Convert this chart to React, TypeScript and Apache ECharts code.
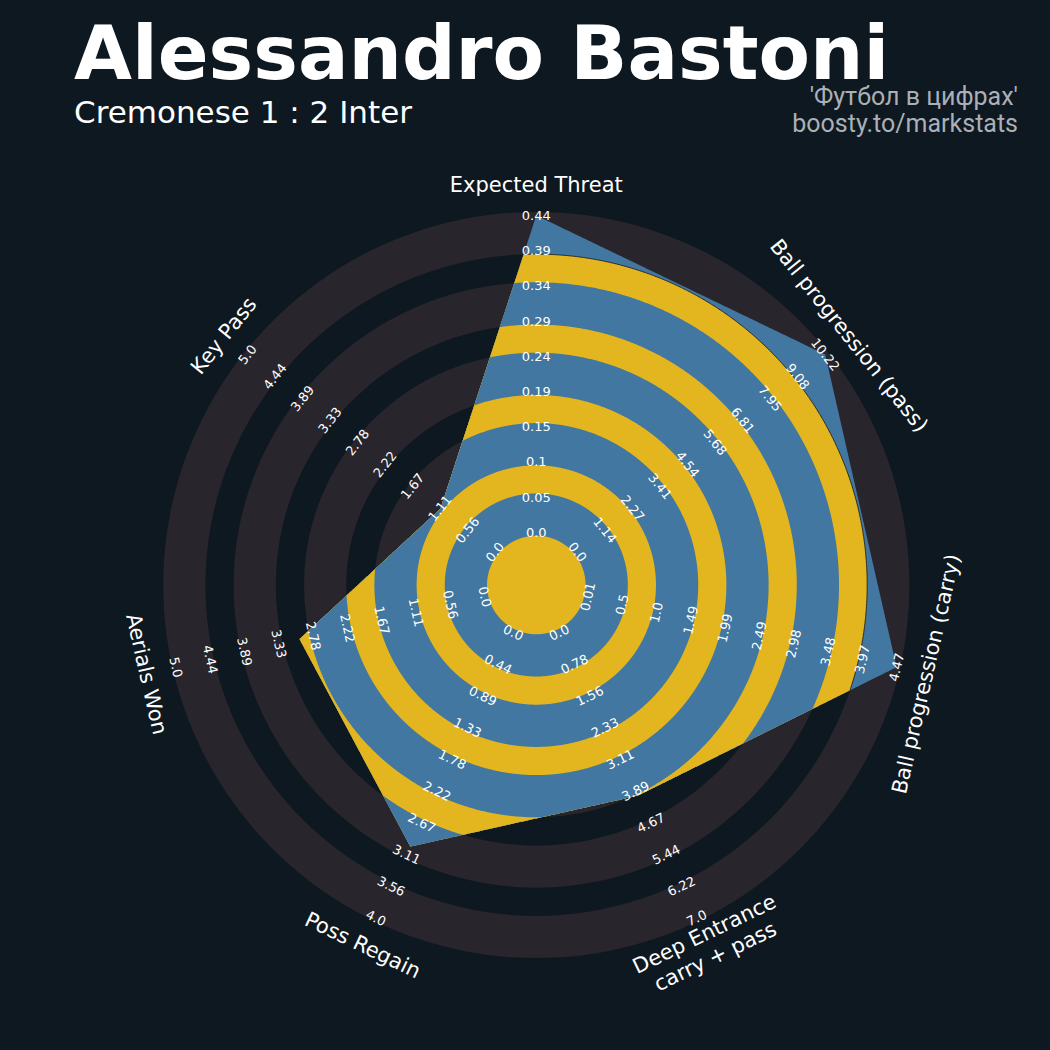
import React, { useEffect, useRef } from "react";
import * as echarts from "echarts";

// ---------------- data ----------------
const params = [
  "Expected Threat",
  "Ball progression (pass)",
  "Ball progression (carry)",
  "Deep Entrance\ncarry + pass",
  "Poss Regain",
  "Aerials Won",
  "Key Pass",
];
const lows = [0, 0, 0.01, 0, 0, 0, 0];
const highs = [0.44, 10.22, 4.47, 7.0, 4.0, 5.0, 5.0];
const values = [0.44, 10.22, 4.47, 4.0, 3.0, 3.0, 1.1];
const tickLabels = [
  ["0.0", "0.05", "0.1", "0.15", "0.19", "0.24", "0.29", "0.34", "0.39", "0.44"],
  ["0.0", "1.14", "2.27", "3.41", "4.54", "5.68", "6.81", "7.95", "9.08", "10.22"],
  ["0.01", "0.5", "1.0", "1.49", "1.99", "2.49", "2.98", "3.48", "3.97", "4.47"],
  ["0.0", "0.78", "1.56", "2.33", "3.11", "3.89", "4.67", "5.44", "6.22", "7.0"],
  ["0.0", "0.44", "0.89", "1.33", "1.78", "2.22", "2.67", "3.11", "3.56", "4.0"],
  ["0.0", "0.56", "1.11", "1.67", "2.22", "2.78", "3.33", "3.89", "4.44", "5.0"],
  ["0.0", "0.56", "1.11", "1.67", "2.22", "2.78", "3.33", "3.89", "4.44", "5.0"],
];
const TITLE = "Alessandro Bastoni";
const SUBTITLE = "Cremonese 1 : 2 Inter";
const CREDIT1 = "'Футбол в цифрах'";
const CREDIT2 = "boosty.to/markstats";

// ---------------- style / layout ----------------
const BG = "#0e1820";
const RING_GRAY = "#28252c";
const BLUE = "#4177a0";
const YELLOW = "#e3b51e";
const FONT = "DejaVu Sans";
const CENTER = [536.3, 585];
const CENTER_R = 1.5; // radius (axis units) where each range starts
const RANGE_SPAN = 9; // radius units from min to max
const PAD = 0.1; // ring edge thickening
const AXIS_MAX = 10.6;
const OUTER_PX = 373.1;
const LABEL_R = 11.36;
const EDGE_R = CENTER_R + 8 - PAD; // inner edge of outermost ring (thin dark line)

const N = params.length;
const STEP = 360 / N;
const angleOf = (i: number) => i * STEP;
const toRadius = (i: number) => {
  const f = Math.max(0, Math.min(1, (values[i] - lows[i]) / (highs[i] - lows[i])));
  return CENTER_R + RANGE_SPAN * f;
};

const ringBands: number[][] = [0, 1, 2, 3, 4].map((m) => [
  CENTER_R + 2 * m - PAD,
  CENTER_R + 2 * m + 1 + PAD,
]);
const fillLayers: number[][] = [];
for (let m = 4; m >= 0; m--) {
  fillLayers.push([CENTER_R + 2 * m + 1 + PAD, 0]);
  fillLayers.push([CENTER_R + 2 * m - PAD, 1]);
}

const samples: number[] = [];
for (let k = 0; k < 1440; k++) samples.push(k * 0.25);
for (let i = 0; i < N; i++) samples.push(angleOf(i));
samples.sort((a, b) => a - b);

function polyRadius(phi: number, radii: number[]) {
  let i = Math.floor(phi / STEP);
  if (i >= N) i = N - 1;
  const j = (i + 1) % N;
  const ti = i * STEP;
  const rad = Math.PI / 180;
  const a = (phi - ti) * rad;
  const b = (STEP - (phi - ti)) * rad;
  const D = STEP * rad;
  const ri = radii[i];
  const rj = radii[j];
  return (ri * rj * Math.sin(D)) / (ri * Math.sin(a) + rj * Math.sin(b));
}

function tangentRot(deg: number) {
  const r = deg > 90 + 1e-6 && deg < 270 - 1e-6 ? 180 - deg : -deg;
  return (r * Math.PI) / 180;
}

const rangeData: number[][] = [];
for (let i = 0; i < N; i++) {
  for (let k = 0; k < tickLabels[i].length; k++) {
    rangeData.push([CENTER_R + k, angleOf(i), i, k]);
  }
}
const paramData: number[][] = params.map((_, i) => [LABEL_R, angleOf(i), i]);

function buildOption(): any {
  return {
    animation: false,
    backgroundColor: BG,
    polar: { center: CENTER, radius: OUTER_PX },
    angleAxis: { type: "value", min: 0, max: 360, startAngle: 90, clockwise: true, show: false },
    radiusAxis: { type: "value", min: 0, max: AXIS_MAX, show: false },
    tooltip: { show: false },
    graphic: [
      {
        type: "text",
        x: 74,
        y: 53,
        silent: true,
        style: {
          text: TITLE,
          fill: "#ffffff",
          fontSize: 75,
          fontWeight: "bold",
          fontFamily: FONT,
          textAlign: "left",
          textVerticalAlign: "middle",
          lineHeight: 58,
        },
      },
      {
        type: "text",
        x: 74,
        y: 112,
        silent: true,
        style: {
          text: SUBTITLE,
          fill: "#ffffff",
          fontSize: 31,
          fontFamily: FONT,
          textAlign: "left",
          textVerticalAlign: "middle",
          lineHeight: 30,
        },
      },
      {
        type: "text",
        x: 1018,
        y: 96,
        silent: true,
        style: {
          text: CREDIT1,
          fill: "#aab0b6",
          fontSize: 25,
          fontFamily: "Roboto",
          textAlign: "right",
          textVerticalAlign: "middle",
          lineHeight: 26,
        },
      },
      {
        type: "text",
        x: 1018,
        y: 123,
        silent: true,
        style: {
          text: CREDIT2,
          fill: "#aab0b6",
          fontSize: 25,
          fontFamily: "Roboto",
          textAlign: "right",
          textVerticalAlign: "middle",
          lineHeight: 26,
        },
      },
    ],
    series: [
      {
        type: "custom",
        name: "rings",
        coordinateSystem: "polar",
        silent: true,
        z: 1,
        data: ringBands,
        renderItem: (p: any, api: any) => {
          const c = api.coord([0, 0]);
          const o = api.coord([api.value(1), 0]);
          const inn = api.coord([api.value(0), 0]);
          return {
            type: "ring",
            shape: {
              cx: c[0],
              cy: c[1],
              r: Math.hypot(o[0] - c[0], o[1] - c[1]),
              r0: Math.hypot(inn[0] - c[0], inn[1] - c[1]),
            },
            style: { fill: RING_GRAY },
          };
        },
      },
      {
        type: "custom",
        name: "radar",
        coordinateSystem: "polar",
        silent: true,
        z: 2,
        data: fillLayers,
        renderItem: (p: any, api: any) => {
          const R = api.value(0);
          const ci = api.value(1);
          const radii = params.map((_, i) => toRadius(i));
          const pts = samples.map((phi) => api.coord([Math.min(R, polyRadius(phi, radii)), phi]));
          return {
            type: "polygon",
            z2: p.dataIndex,
            shape: { points: pts },
            style: { fill: ci === 0 ? BLUE : YELLOW },
          };
        },
      },
      {
        type: "custom",
        name: "edge",
        coordinateSystem: "polar",
        silent: true,
        z: 2,
        data: [[EDGE_R, 0]],
        renderItem: (p: any, api: any) => {
          const R = api.value(0);
          const radii = params.map((_, i) => toRadius(i));
          const runs: number[][][] = [];
          let cur: number[][] = [];
          samples.forEach((phi) => {
            if (polyRadius(phi, radii) >= R) {
              cur.push(api.coord([R, phi]));
            } else if (cur.length) {
              runs.push(cur);
              cur = [];
            }
          });
          if (cur.length) runs.push(cur);
          return {
            type: "group",
            z2: 100,
            children: runs
              .filter((r) => r.length > 1)
              .map((r) => ({
                type: "polyline",
                z2: 100,
                shape: { points: r },
                style: { stroke: "#1a1a1e", lineWidth: 1, fill: "none", opacity: 0.85 },
              })),
          };
        },
      },
      {
        type: "custom",
        name: "ranges",
        coordinateSystem: "polar",
        silent: true,
        z: 3,
        data: rangeData,
        renderItem: (p: any, api: any) => {
          const pos = api.coord([api.value(0), api.value(1)]);
          const i = api.value(2);
          const k = api.value(3);
          return {
            type: "text",
            x: pos[0],
            y: pos[1],
            rotation: tangentRot(api.value(1)),
            style: {
              text: tickLabels[i][k],
              fill: "#ffffff",
              fontSize: 13,
              fontFamily: FONT,
              textAlign: "center",
              textVerticalAlign: "middle",
            },
          };
        },
      },
      {
        type: "custom",
        name: "params",
        coordinateSystem: "polar",
        silent: true,
        z: 3,
        data: paramData,
        renderItem: (p: any, api: any) => {
          const pos = api.coord([api.value(0), api.value(1)]);
          const i = api.value(2);
          return {
            type: "text",
            x: pos[0],
            y: pos[1],
            rotation: tangentRot(api.value(1)),
            style: {
              text: params[i],
              fill: "#ffffff",
              fontSize: 21,
              fontFamily: FONT,
              textAlign: "center",
              textVerticalAlign: "middle",
              textLineHeight: 25,
            },
          };
        },
      },
    ],
  };
}

export default function App() {
  const ref = useRef<HTMLDivElement>(null);
  useEffect(() => {
    if (!ref.current) return;
    const chart = echarts.init(ref.current, null, { renderer: "svg", width: 1050, height: 1050 });
    chart.setOption(buildOption());
    return () => chart.dispose();
  }, []);
  return (
    <div
      ref={ref}
      style={{ position: "absolute", left: 0, top: 0, width: 1050, height: 1050, background: BG }}
    />
  );
}
